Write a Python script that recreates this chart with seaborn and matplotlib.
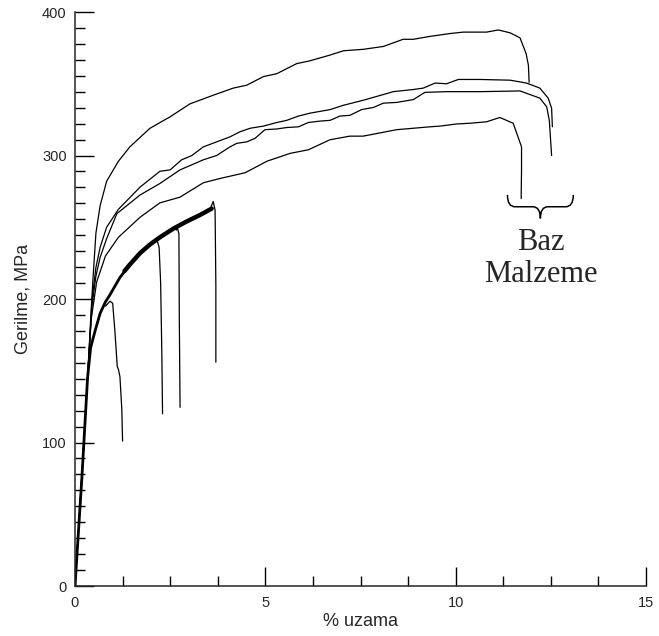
import numpy as np
import pandas as pd
import seaborn as sns
import matplotlib
matplotlib.use("Agg")
import matplotlib.pyplot as plt
from matplotlib.path import Path
from matplotlib.patches import PathPatch
from matplotlib.ticker import MultipleLocator

# base material (Baz Malzeme), four thin curves
base_a_strain = [0, 0.20, 0.33, 0.42, 0.47, 0.55, 0.66, 0.83, 1.14, 1.44, 1.97, 2.50, 3.02, 3.63, 4.16, 4.51,
                 4.95, 5.30, 5.82, 6.17, 6.70, 7.05, 7.57, 8.10, 8.62, 8.89, 9.32, 9.85, 10.20, 10.81, 11.12,
                 11.43, 11.69, 11.85, 11.91, 11.93]
base_a_stress = [0, 85, 145, 190, 213, 246, 265, 282, 296, 306, 319, 327, 336, 342, 347, 349,
                 355, 357, 364, 366, 370, 373, 374, 376, 381, 381, 383, 385, 386, 386, 387.5,
                 385.5, 382, 371, 363, 351]

base_b_strain = [0, 0.20, 0.33, 0.45, 0.55, 0.66, 0.83, 1.14, 1.71, 2.23, 2.50, 2.80, 3.07, 3.37, 3.72, 4.07,
                 4.33, 4.60, 4.95, 5.30, 5.56, 5.87, 6.17, 6.70, 7.05, 7.57, 8.10, 8.36, 8.89, 9.15, 9.46,
                 9.76, 10.07, 10.64, 11.43, 11.86, 12.21, 12.43, 12.52, 12.54]
base_b_stress = [0, 85, 145, 200, 222, 236, 250, 262.5, 278, 289, 290, 297, 300, 306, 309.5, 313,
                 316.5, 319, 320.5, 323, 324.5, 327.5, 329.5, 332, 335, 338.5, 342.5, 344.5, 346, 347, 350.5,
                 350, 353, 353, 352.5, 350.5, 347, 340, 333, 320]

base_c_strain = [0, 0.20, 0.33, 0.45, 0.55, 0.66, 0.83, 1.10, 1.71, 2.23, 2.76, 3.37, 3.72, 4.07, 4.25, 4.51,
                 4.73, 4.99, 5.30, 5.56, 5.87, 6.13, 6.44, 6.70, 6.96, 7.22, 7.53, 7.84, 8.10, 8.45, 8.89,
                 9.19, 9.76, 10.64, 11.69, 12.21, 12.39, 12.46, 12.52]
base_c_stress = [0, 85, 145, 196, 216, 229, 242, 259.5, 272.5, 280.5, 290, 297, 300, 306, 308.5, 309.5,
                 312, 318, 318.5, 319.5, 320, 323, 324, 324.5, 327.5, 328, 332, 333.5, 336.5, 337, 339,
                 344, 344.5, 344.5, 345, 340, 334, 324.5, 300]

base_d_strain = [0, 0.20, 0.33, 0.42, 0.57, 0.80, 1.14, 1.71, 2.23, 2.76, 3.37, 3.81, 4.47, 5.04, 5.65, 6.13,
                 6.70, 7.22, 7.57, 8.45, 9.32, 9.59, 10.03, 10.38, 10.81, 11.16, 11.51, 11.73, 11.73, 11.72]
base_d_stress = [0, 85, 145, 185, 212, 230, 243, 257, 267, 271, 281, 284, 288, 296, 301.5, 304,
                 311, 313.5, 313.5, 318, 320, 320.5, 322, 322.5, 323.5, 326.5, 322.5, 306, 290, 270]

# welded specimens: common loading branch (smooth part, serrated part) + four fracture branches
weld_low_strain = [0, 0.18, 0.33, 0.41, 0.53, 0.66, 0.80, 0.92, 1.18, 1.44]
weld_low_stress = [0, 75, 145, 166, 178, 190, 198, 203, 215, 224]
weld_high_strain = [1.30, 1.44, 1.71, 1.97, 2.23, 2.58, 2.93, 3.28, 3.59]
weld_high_stress = [219.5, 224, 232, 238, 243, 249, 254, 258.5, 263]

drop1_strain = [0.80, 0.92, 0.99, 1.05, 1.11, 1.14, 1.18, 1.23, 1.25]
drop1_stress = [195, 198.5, 197, 177, 153, 151, 146, 123, 101]
drop2_strain = [2.10, 2.15, 2.21, 2.25, 2.28, 2.30]
drop2_stress = [240, 241.5, 236, 211, 164, 120]
drop3_strain = [2.66, 2.69, 2.73, 2.74, 2.76]
drop3_stress = [248, 249.5, 245.5, 187, 124.5]
drop4_strain = [3.55, 3.63, 3.68, 3.70, 3.70]
drop4_stress = [262.5, 268, 262, 210, 156]

x_ticks = [0, 5, 10, 15]
y_ticks = [0, 100, 200, 300, 400]


def long_df(curves):
    frames = []
    for name, (xs, ys) in curves.items():
        frames.append(pd.DataFrame({"strain": xs, "stress": ys, "curve": name}))
    return pd.concat(frames, ignore_index=True)


base_df = long_df({
    "A": (base_a_strain, base_a_stress),
    "B": (base_b_strain, base_b_stress),
    "C": (base_c_strain, base_c_stress),
    "D": (base_d_strain, base_d_stress),
})
weld_low_df = long_df({"W1": (weld_low_strain, weld_low_stress)})
weld_high_df = long_df({"W2": (weld_high_strain, weld_high_stress)})
drop_df = long_df({
    "1": (drop1_strain, drop1_stress),
    "2": (drop2_strain, drop2_stress),
    "3": (drop3_strain, drop3_stress),
    "4": (drop4_strain, drop4_stress),
})

sns.set_style("ticks")
plt.rcParams["font.family"] = ["Liberation Sans", "DejaVu Sans"]

fig = plt.figure(figsize=(6.59, 6.36), dpi=100)
ax = fig.add_axes([0.1138, 0.0786, 0.8665, 0.9025])

common = dict(x="strain", y="stress", units="curve", estimator=None, sort=False,
              color="black", ax=ax, legend=False)
sns.lineplot(data=base_df, lw=0.9, **common)
sns.lineplot(data=weld_low_df, lw=2.0, solid_capstyle="round", **common)
sns.lineplot(data=weld_high_df, lw=3.2, solid_capstyle="round", **common)
sns.lineplot(data=drop_df, lw=0.9, **common)

ax.set_xlim(0, 15)
ax.set_ylim(0, 400)
ax.set_xticks(x_ticks)
ax.set_yticks(y_ticks)
ax.xaxis.set_minor_locator(MultipleLocator(1.25))
ax.yaxis.set_minor_locator(MultipleLocator(100 / 9))
ax.tick_params(which="both", direction="in", color="black", width=1.0, labelsize=10.5)
ax.tick_params(which="major", length=13.5)
ax.tick_params(which="minor", length=7)
ax.tick_params(axis="x", pad=7.5)
ax.tick_params(axis="y", pad=6)
sns.despine(ax=ax)
for s in ["left", "bottom"]:
    ax.spines[s].set_linewidth(1.1)

ax.set_xlabel("% uzama", fontsize=13, labelpad=2)
ax.set_ylabel("Gerilme, MPa", fontsize=13)
ax.yaxis.set_label_coords(-0.077, 0.5)

# brace under the base-material curve ends
x0, x1, y_top, y_bar, y_tip, r = 11.36, 13.09, 272.5, 264.3, 256.2, 0.2
xm = (x0 + x1) / 2
verts = [(x0, y_top), (x0, y_bar), (x0 + r, y_bar), (xm - r, y_bar), (xm, y_bar), (xm, y_tip),
         (xm, y_tip), (xm, y_bar), (xm + r, y_bar), (x1 - r, y_bar), (x1, y_bar), (x1, y_top)]
codes = [Path.MOVETO, Path.CURVE3, Path.CURVE3, Path.LINETO, Path.CURVE3, Path.CURVE3,
         Path.MOVETO, Path.CURVE3, Path.CURVE3, Path.LINETO, Path.CURVE3, Path.CURVE3]
ax.add_patch(PathPatch(Path(verts, codes), fill=False, lw=1.1, edgecolor="black"))

ax.text(xm, 228, "Baz\nMalzeme", ha="center", va="center", multialignment="center",
        fontsize=22, family="Liberation Serif", linespacing=1.15)

fig.savefig("out.png", dpi=100)
